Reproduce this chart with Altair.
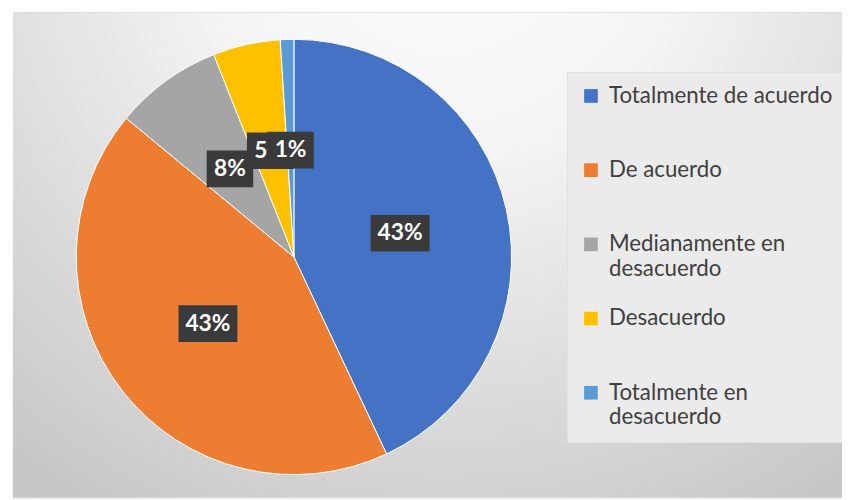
import altair as alt
import pandas as pd

categories = ["Totalmente de acuerdo", "De acuerdo", "Medianamente en desacuerdo",
              "Desacuerdo", "Totalmente en desacuerdo"]
values = [43, 43, 8, 5, 1]
labels = ["43%", "43%", "8%", "5%", "1%"]
colors = ["#4472C4", "#ED7D31", "#A5A5A5", "#FFC000", "#5B9BD5"]

df = pd.DataFrame({"cat": categories, "value": values, "lab": labels,
                   "order": list(range(len(categories)))})

CX, CY, R = 284, 247, 220

gradient = alt.RadialGradient(
    gradient="radial",
    stops=[alt.GradientStop(offset=0, color="#ffffff"),
           alt.GradientStop(offset=0.35, color="#f4f4f4"),
           alt.GradientStop(offset=1, color="#c6c6c6")],
    x1=0.52, y1=0.08, r1=0, x2=0.52, y2=0.08, r2=0.85)

bg = alt.Chart(pd.DataFrame({"a": [0]})).mark_rect(color=gradient).encode(
    x=alt.value(0), x2=alt.value("width"), y=alt.value(0), y2=alt.value("height"))

pie = alt.Chart(df).mark_arc(outerRadius=R, stroke="white", strokeWidth=1).encode(
    theta=alt.Theta("value:Q", stack=True),
    order=alt.Order("order:Q"),
    x=alt.value(CX), y=alt.value(CY),
    color=alt.Color("cat:N", sort=categories,
                    scale=alt.Scale(domain=categories, range=colors),
                    legend=alt.Legend(
                        title=None, orient="none", legendX=560, legendY=60,
                        symbolType="square", symbolSize=190, symbolStrokeWidth=0,
                        labelFont="Lato", labelFontSize=22.5, labelColor="#404040",
                        labelLimit=0, labelOffset=7,
                        labelExpr="length(datum.label) > 21 ? [substring(datum.label, 0, lastindexof(datum.label, ' ')), substring(datum.label, lastindexof(datum.label, ' ') + 1)] : datum.label",
                        gridAlign="all", rowPadding=27,
                        fillColor="#ebebeb", padding=13,
                        strokeColor="#e2e2e2")),
)


def label_layer(cats, radius):
    base = (alt.Chart(df)
            .transform_joinaggregate(total="sum(value)")
            .transform_window(cum="sum(value)", sort=[alt.SortField("order")])
            .transform_calculate(
                mid="(datum.cum - datum.value / 2) / datum.total * 2 * PI")
            .transform_calculate(
                px=f"{CX} + {radius} * sin(datum.mid)",
                py=f"{CY} - {radius} * cos(datum.mid)",
                w="22 + 12.5 * length(datum.lab)")
            .transform_calculate(
                x1="datum.px - datum.w / 2", x2="datum.px + datum.w / 2",
                y1="datum.py - 18.5", y2="datum.py + 18.5")
            .transform_filter(alt.FieldOneOfPredicate(field="cat", oneOf=cats)))
    box = base.mark_rect(color="#3a3a3a").encode(
        x=alt.X("x1:Q", scale=None, axis=None), x2="x2:Q",
        y=alt.Y("y1:Q", scale=None, axis=None), y2="y2:Q")
    txt = base.mark_text(font="Lato", fontWeight="bold", fontSize=23, color="white").encode(
        x=alt.X("px:Q", scale=None, axis=None),
        y=alt.Y("py:Q", scale=None, axis=None),
        text="lab:N")
    return [box, txt]


layers = label_layer(categories[:4], 110) + label_layer([categories[4]], 108)

chart = alt.layer(bg, pie, *layers).properties(
    width=838, height=490,
    padding={"left": 5, "top": 2, "right": 0, "bottom": 0},
    autosize=alt.AutoSizeParams(type="none"),
    background="white",
).configure_view(stroke="#c4c4c4", strokeWidth=1)

chart.save("out.html", embed_options={"renderer": "svg", "actions": False})
